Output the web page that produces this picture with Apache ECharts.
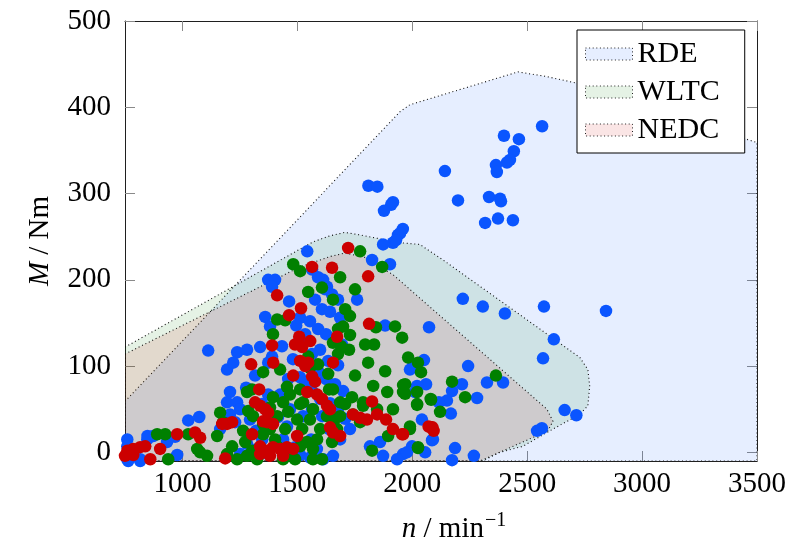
<!DOCTYPE html>
<html>
<head>
<meta charset="utf-8">
<script src="https://cdn.jsdelivr.net/npm/echarts@6/dist/echarts.min.js"></script>
<style>
  html, body { margin: 0; padding: 0; background: #fff; }
  #chart { width: 790px; height: 549px; }
</style>
</head>
<body>
<div id="chart"></div>
<script>
// Axis tick values
const xTicks = [1000, 1500, 2000, 2500, 3000, 3500];
const yTicks = [0, 100, 200, 300, 400, 500];

// Operating-range envelopes (n in 1/min, M in Nm)
const rdeArea = [[750, 59], [1947, 395], [1990, 403], [2077, 410], [2460, 441], [2577, 436], [2716, 428], [3500, 359], [3500, -10], [750, -10]];
const wltcArea = [[750, 122], [1568, 244], [1642, 251], [1707, 255], [1773, 252], [1947, 243], [2033, 241], [2134, 223], [2729, 110], [2764, 96], [2772, 77], [2764, 54], [2729, 44], [2612, 27], [2481, 7], [2381, 0], [2305, -10], [750, -10]];
const nedcArea = [[750, 114], [1512, 215], [1642, 227], [1707, 231], [1794, 226], [1916, 206], [2586, 50], [2612, 36], [2590, 25], [2295, -10], [750, -10]];

// Measured operating points [n, M]
const rdePoints = [
  [2565,378],[2399,367],[2464,363],[2442,349],[2425,339],[2412,336],[2364,333],[2368,325],[2142,326],[2199,292],[2334,296],[2382,294],[2386,291],[2317,266],[2373,271],[2438,269],[1959,259],[1809,309],[1848,308],[1916,290],[1908,287],[1877,280],[1938,252],[1947,254],[1916,243],[1873,241],[1929,246],
  [2220,178],[2307,169],[2403,161],[2573,169],[2843,164],[2616,131],[2569,109],[2073,145],[2243,100],[2051,107],[2003,100],[2060,79],[2173,71],[2216,79],[2325,81],[2395,81],[2282,63],[2151,60],[2116,58],[2168,45],[2042,38],[2663,49],[2714,43],[2543,25],[2564,28],[2086,14],[2186,5],[2173,-9],[2268,-4],[2056,0],[1999,7],[1960,-2],
  [1543,233],[1825,223],[1903,218],[1373,200],[1403,200],[1390,192],[1612,200],[1629,192],[1464,175],[1760,177],[1360,157],[1381,146],[1512,156],[1882,147],[1112,118],[1238,116],[1281,119],[1338,122],[1433,123],[1194,96],[1221,104],[1390,111],[1373,104],[1207,70],[1194,58],[1238,58],[1207,44],[1229,35],[1025,37],[1073,41],[1990,96],[2021,77],[2012,70],[2090,15],[1860,12],[1816,7],[1873,-4],[1934,-8],[1977,0],[760,15],[760,7],[847,15],[873,19],[968,18],[933,12],[760,-8],[816,-8],[1164,27],[1585,4],[1612,-8],[1655,-4],[1729,27],[1455,30],[1525,42],
  [1564,212],[1590,203],[1621,189],[1651,183],[1677,177],[1577,177],[1607,166],[1642,163],[1686,156],[1555,152],[1590,143],[1625,137],[1660,131],[1694,125],[1599,119],[1564,114],[1634,106],[1677,101],[1590,94],[1625,85],[1664,79],[1699,71],[1564,71],[1599,62],[1642,57],[1677,50],[1708,39],[1608,42],[1564,50],[1638,27],[1560,15],[1686,15],[1534,79],[1512,87],[1512,127],[1534,137],[1495,147],[1481,108],[1460,85],[1425,67],[1468,50],[1416,41],[1373,67],[1347,56],[1316,89],[1277,75],[1251,50],[1294,38],[1320,25],[1347,15],[1438,15],[1490,6],[1512,-3],[1447,-4],[1555,-6],[1373,-2],[1325,4],[1281,10],[1251,-2],
  [848,19],[977,-3],[764,-10],[816,-10]
];
const wltcPoints = [
  [1773,233],[1482,218],[1512,210],[1869,215],[1686,203],[1607,191],[1547,186],[1655,177],[1412,154],[1447,153],[1394,137],[1729,158],[1699,146],[1677,143],[1842,145],[1925,146],[1956,133],[1655,127],[1690,123],[1725,119],[1795,125],[1834,125],[1982,110],[2025,104],[1808,104],[1882,94],[1751,89],[1634,91],[1547,111],[1555,98],[1425,96],[1351,93],[1281,70],[1394,64],[1455,76],[1512,73],[1830,77],[1969,79],[2021,56],[1960,70],[1891,70],[1786,58],[1686,58],[1655,73],[1738,64],[2080,62],[1164,46],[1177,35],[1151,19],[1077,0],[1064,4],[1107,-4],[938,-8],[890,21],[925,21],[1025,21],[1238,-8],[1273,12],[1303,2],[1325,-8],[1281,-4],[1381,27],[1412,42],[1460,47],[1438,58],[1499,38],[1521,27],[1542,12],[1568,4],[1568,-8],[1607,-8],[1651,12],[1438,-8],[1490,-8],[1412,7],[1673,27],[1599,27],[1525,58],[1568,50],[1629,42],[1686,42],[1773,35],[1786,54],[1847,50],[1916,50],[1895,19],[1990,27],[2025,6],[1825,2],[1742,44],[1303,73],[1286,48],[1351,21],[1307,42],
  [2038,93],[1960,78],[1969,68],[2021,70],[2021,55],[2082,61],[2121,47],[2173,82],[2230,64],[2364,89],[1990,30],[2025,5],
  [1468,67],[1512,56],[1555,38],[1447,27],[1403,15],[1338,6],[1586,15],[1512,7],[1468,-2],[1664,39],[1708,56],[1638,73],[1590,102],[1677,114],[1729,136],[1708,166],[1751,189],[1351,33],[1381,52],[1264,25],[1216,7],[1194,-2]
];
const nedcPoints = [
  [1721,237],[1564,215],[1651,214],[1808,204],[1412,182],[1516,167],[1464,159],[1812,149],[1673,134],[1390,124],[1508,134],[1490,125],[1521,122],[1556,129],[1512,106],[1547,104],[1534,100],[1395,104],[1299,102],[1655,104],[1482,89],[1564,88],[1577,82],[1334,73],[1316,58],[1338,54],[1360,50],[1373,46],[1543,70],[1586,67],[1607,62],[1629,54],[1642,50],[1351,36],[1368,35],[1394,33],[1216,35],[1194,33],[1173,33],[1303,21],[1642,29],[1655,23],[1686,19],[1825,59],[1742,44],[1773,40],[1803,38],[1847,44],[1886,38],[1916,27],[1960,21],[2080,29],[2093,25],[1499,19],[977,21],[1055,23],[1077,17],[903,4],[860,-8],[760,2],[786,4],[816,6],[838,7],[750,-4],[786,-3],[1186,-7],[1338,7],[1368,2],[1394,6],[1425,4],[1455,6],[1482,4],[1338,-2],[1381,-4],[1438,-4],[2088,29],[2071,30],[1956,21]
];

const FONT = '"Liberation Serif", "DejaVu Serif", serif';
const COLORS = { RDE: '#0a55ff', WLTC: '#008000', NEDC: '#cc0000' };
const FILLS = { RDE: 'rgba(10,85,255,0.1)', WLTC: 'rgba(0,128,0,0.1)', NEDC: 'rgba(204,0,0,0.1)' };

function areaSeries(name, pts) {
  return {
    type: 'custom',
    name: name,
    coordinateSystem: 'cartesian2d',
    clip: true,
    silent: true,
    z: 1,
    itemStyle: { color: FILLS[name] },
    data: [pts[0]],
    renderItem: function (params, api) {
      return {
        type: 'polygon',
        shape: { points: pts.map(function (p) { return api.coord(p); }) },
        style: { fill: FILLS[name], stroke: '#111', lineWidth: 1.1, lineDash: [1, 2.8] }
      };
    }
  };
}

function pointSeries(name, pts) {
  return {
    type: 'scatter',
    name: name + ' points',
    data: pts,
    symbol: 'circle',
    symbolSize: 12.5,
    clip: false,
    z: 3,
    itemStyle: { color: COLORS[name], opacity: 1 }
  };
}

const plainNumber = function (v) { return String(v); };
const tickStyle = { inside: true, length: 10, lineStyle: { color: '#8a8a8a', width: 1 } };
const lineStyle = { show: true, onZero: false, lineStyle: { color: '#1f1f1f', width: 1 } };

const chart = echarts.init(document.getElementById('chart'), null, { renderer: 'canvas' });
chart.setOption({
  animation: false,
  backgroundColor: '#fff',
  grid: { left: 125, right: 33, top: 21, bottom: 87, containLabel: false },
  xAxis: [
    {
      type: 'value', min: 750, max: 3500, position: 'bottom',
      axisLine: lineStyle,
      axisTick: Object.assign({ customValues: xTicks }, tickStyle),
      axisLabel: { customValues: xTicks, formatter: plainNumber, fontFamily: FONT, fontSize: 29, color: '#000', margin: 9 },
      splitLine: { show: false },
      name: '{i|n}{t| / min}{sup|−1}',
      nameLocation: 'middle',
      nameGap: 50,
      nameTextStyle: {
        fontFamily: FONT, fontSize: 29, color: '#000',
        rich: {
          i: { fontFamily: FONT, fontSize: 29, fontStyle: 'italic', verticalAlign: 'bottom', padding: [0, 0, 0, 26] },
          t: { fontFamily: FONT, fontSize: 29, verticalAlign: 'bottom' },
          sup: { fontFamily: FONT, fontSize: 20, verticalAlign: 'bottom', padding: [0, 0, 13, 1] }
        }
      }
    },
    {
      type: 'value', min: 750, max: 3500, position: 'top',
      axisLine: lineStyle,
      axisTick: Object.assign({ customValues: xTicks }, tickStyle),
      axisLabel: { show: false },
      splitLine: { show: false }
    }
  ],
  yAxis: [
    {
      type: 'value', min: -10, max: 500, position: 'left',
      axisLine: lineStyle,
      axisTick: Object.assign({ customValues: yTicks }, tickStyle),
      axisLabel: { customValues: yTicks, formatter: plainNumber, fontFamily: FONT, fontSize: 29, color: '#000', margin: 14 },
      splitLine: { show: false },
      name: '{i|M} / Nm',
      nameLocation: 'middle',
      nameRotate: 90,
      nameGap: 70,
      nameTextStyle: {
        fontFamily: FONT, fontSize: 29, color: '#000',
        rich: { i: { fontFamily: FONT, fontSize: 29, fontStyle: 'italic' } }
      }
    },
    {
      type: 'value', min: -10, max: 500, position: 'right',
      axisLine: lineStyle,
      axisTick: Object.assign({ customValues: yTicks }, tickStyle),
      axisLabel: { show: false },
      splitLine: { show: false }
    }
  ],
  legend: {
    orient: 'vertical',
    left: 577, top: 30,
    padding: [9, 25, 8, 8],
    itemGap: 8,
    itemWidth: 47,
    itemHeight: 12,
    backgroundColor: '#fff',
    borderColor: '#000',
    borderWidth: 1,
    borderRadius: 0,
    selectedMode: false,
    textStyle: { fontFamily: FONT, fontSize: 30, color: '#000', padding: [0, 0, 0, 0] },
    data: ['RDE', 'WLTC', 'NEDC'].map(function (n) {
      return {
        name: n, icon: 'rect',
        itemStyle: { color: FILLS[n], borderColor: '#222', borderWidth: 1, borderType: [1, 2.6] }
      };
    })
  },
  series: [
    areaSeries('RDE', rdeArea),
    areaSeries('WLTC', wltcArea),
    areaSeries('NEDC', nedcArea),
    pointSeries('RDE', rdePoints),
    pointSeries('WLTC', wltcPoints),
    pointSeries('NEDC', nedcPoints)
  ]
});
</script>
</body>
</html>
